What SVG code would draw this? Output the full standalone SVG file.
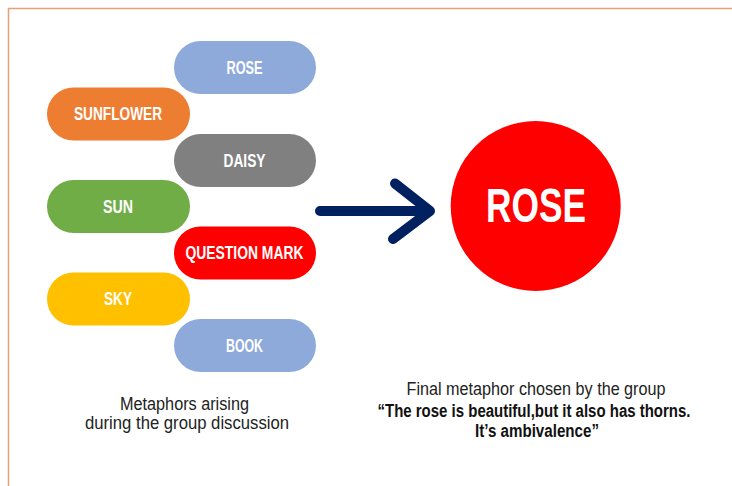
<svg xmlns="http://www.w3.org/2000/svg" width="732" height="486" viewBox="0 0 732 486">
  <style>
    .pill-label { font-family: "Liberation Sans Narrow", "Liberation Sans", Arial, sans-serif; font-weight: bold; font-size: 17.5px; fill: #ffffff; text-anchor: middle; }
    .caption { font-family: "Liberation Sans Narrow", "Liberation Sans", Arial, sans-serif; font-size: 17.5px; fill: #222222; text-anchor: middle; }
    .caption-bold { font-family: "Liberation Sans Narrow", "Liberation Sans", Arial, sans-serif; font-size: 17.5px; font-weight: bold; fill: #111111; text-anchor: middle; }
    .frame { fill: none; stroke: #e8a07a; stroke-width: 1.5; }
  </style>

  <rect x="0" y="0" width="732" height="486" fill="#ffffff"/>
  <!-- frame: top and left edges -->
  <path class="frame" d="M 8.5 486 V 8.5 H 732"/>

  <!-- metaphor pills -->
  <g id="pill-rose">
    <rect x="174" y="41" width="142" height="53" rx="26.5" fill="#8eaadb"/>
    <text class="pill-label" x="244.5" y="73.5" textLength="36" lengthAdjust="spacingAndGlyphs">ROSE</text>
  </g>
  <g id="pill-sunflower">
    <rect x="47" y="87.5" width="143" height="53" rx="26.5" fill="#ed7d31"/>
    <text class="pill-label" x="118" y="120" textLength="88" lengthAdjust="spacingAndGlyphs">SUNFLOWER</text>
  </g>
  <g id="pill-daisy">
    <rect x="174" y="134" width="142" height="53" rx="26.5" fill="#808080"/>
    <text class="pill-label" x="244.5" y="166.5" textLength="42" lengthAdjust="spacingAndGlyphs">DAISY</text>
  </g>
  <g id="pill-sun">
    <rect x="47" y="180" width="143" height="53" rx="26.5" fill="#70ad47"/>
    <text class="pill-label" x="118" y="212.5" textLength="30" lengthAdjust="spacingAndGlyphs">SUN</text>
  </g>
  <g id="pill-question-mark">
    <rect x="174" y="226.5" width="142" height="53" rx="26.5" fill="#ff0000"/>
    <text class="pill-label" x="244.5" y="259" textLength="118" lengthAdjust="spacingAndGlyphs">QUESTION MARK</text>
  </g>
  <g id="pill-sky">
    <rect x="47" y="272.5" width="143" height="53" rx="26.5" fill="#ffc000"/>
    <text class="pill-label" x="118" y="305" textLength="28" lengthAdjust="spacingAndGlyphs">SKY</text>
  </g>
  <g id="pill-book">
    <rect x="174" y="319" width="142" height="53" rx="26.5" fill="#8eaadb"/>
    <text class="pill-label" x="244.5" y="351.5" textLength="37" lengthAdjust="spacingAndGlyphs">BOOK</text>
  </g>

  <!-- chosen metaphor -->
  <g id="final-rose">
    <circle cx="535.7" cy="206" r="85" fill="#ff0000"/>
    <text x="536" y="222" font-family="'Liberation Sans Narrow', 'Liberation Sans', Arial, sans-serif" font-weight="bold" font-size="48" fill="#ffffff" text-anchor="middle" textLength="100" lengthAdjust="spacingAndGlyphs">ROSE</text>
  </g>

  <!-- connector -->
  <g id="connectors">
    <path d="M 320 211 H 429 M 395 183.5 L 430 211 L 393 239" fill="none" stroke="#002060" stroke-width="10" stroke-linecap="round" stroke-linejoin="round"/>
  </g>

  <!-- captions -->
  <g id="caption-left">
    <text class="caption" x="184.5" y="410" textLength="129" lengthAdjust="spacingAndGlyphs">Metaphors arising</text>
    <text class="caption" x="187" y="429" textLength="204" lengthAdjust="spacingAndGlyphs">during the group discussion</text>
  </g>
  <g id="caption-right">
    <text class="caption" x="536" y="395" textLength="259" lengthAdjust="spacingAndGlyphs">Final metaphor chosen by the group</text>
    <text class="caption-bold" x="534" y="416.5" textLength="313" lengthAdjust="spacingAndGlyphs">“The rose is beautiful,but it also has thorns.</text>
    <text class="caption-bold" x="537" y="436.5" textLength="124" lengthAdjust="spacingAndGlyphs">It’s ambivalence”</text>
  </g>
</svg>
